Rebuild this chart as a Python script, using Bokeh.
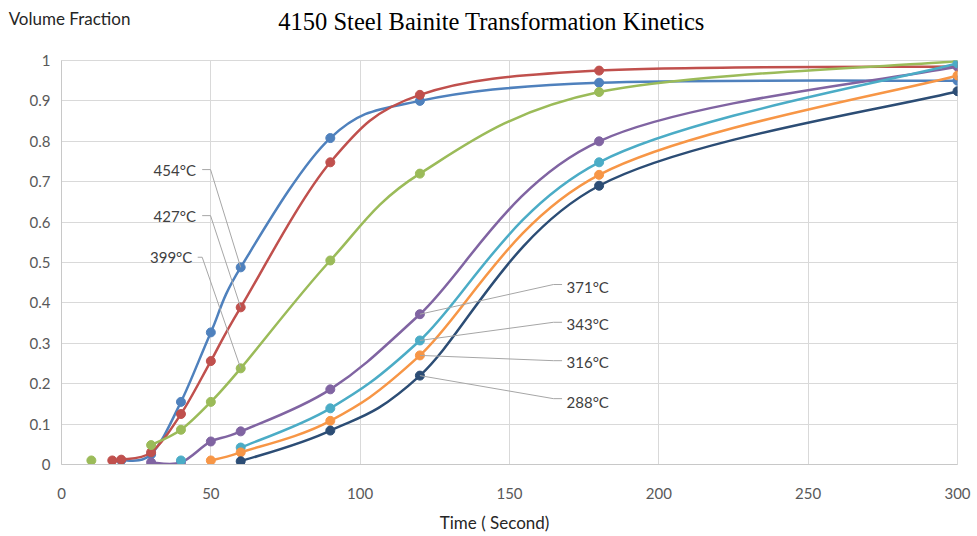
from bokeh.plotting import figure
from bokeh.models import Label, FixedTicker, Range1d
from bokeh.embed import file_html
from bokeh.resources import INLINE

# ---------------- data ----------------
x_ticks = [0, 50, 100, 150, 200, 250, 300]
y_ticks = [0, 0.1, 0.2, 0.3, 0.4, 0.5, 0.6, 0.7, 0.8, 0.9, 1]
y_tick_labels = ["0", "0.1", "0.2", "0.3", "0.4", "0.5", "0.6", "0.7", "0.8", "0.9", "1"]

names = ["454°C", "427°C", "399°C", "371°C", "343°C", "316°C", "288°C"]

t454 = [20, 30, 40, 50, 60, 90, 120, 180, 300]
v454 = [0.010, 0.025, 0.155, 0.327, 0.488, 0.808, 0.900, 0.945, 0.950]
t427 = [17, 20, 30, 40, 50, 60, 90, 120, 180, 300]
v427 = [0.010, 0.012, 0.030, 0.125, 0.256, 0.389, 0.748, 0.915, 0.975, 0.985]
t399 = [10, 20, 30, 40, 50, 60, 90, 120, 180, 300]
v399 = [0.010, None, 0.048, 0.086, 0.155, 0.238, 0.505, 0.720, 0.922, 0.998]
t371 = [30, 40, 50, 60, 90, 120, 180, 300]
v371 = [0.005, 0.005, 0.057, 0.082, 0.186, 0.372, 0.800, 0.985]
t343 = [40, 50, 60, 90, 120, 180, 300]
v343 = [0.010, None, 0.042, 0.139, 0.307, 0.748, 0.993]
t316 = [50, 60, 90, 120, 180, 300]
v316 = [0.010, 0.030, 0.108, 0.270, 0.717, 0.963]
t288 = [60, 90, 120, 180, 300]
v288 = [0.008, 0.084, 0.220, 0.690, 0.924]

series_t = [t454, t427, t399, t371, t343, t316, t288]
series_v = [v454, v427, v399, v371, v343, v316, v288]

title_text = "4150 Steel Bainite Transformation Kinetics"
y_title = "Volume Fraction"
x_title = "Time ( Second)"

# ---------------- styles ----------------
colors = ["#4f81bd", "#c0504d", "#9bbb59", "#8064a2", "#4bacc6", "#f79646", "#2c4d75"]
FONT = "Lato"
GRID = "#d9d9d9"

p = figure(width=977, height=536, output_backend="svg", toolbar_location=None,
           x_range=Range1d(0, 300), y_range=Range1d(0, 1),
           min_border_left=61, min_border_right=20, min_border_top=60, min_border_bottom=72)
p.outline_line_color = GRID
p.background_fill_color = "white"
p.border_fill_color = "white"

p.xaxis.ticker = FixedTicker(ticks=x_ticks)
p.yaxis.ticker = FixedTicker(ticks=y_ticks)
p.yaxis.major_label_overrides = {t: s for t, s in zip(y_ticks, y_tick_labels)}
for ax in (p.xaxis, p.yaxis):
    ax.axis_line_color = "#c8c8c8"
    ax.major_tick_line_color = None
    ax.minor_tick_line_color = None
    ax.major_label_text_font = FONT
    ax.major_label_text_font_size = "15px"
    ax.major_label_text_color = "#595959"
p.xaxis.major_label_standoff = 17
p.yaxis.major_label_standoff = 5
p.xgrid.grid_line_color = GRID
p.ygrid.grid_line_color = GRID


def runs(ts, vs):
    out, cur = [], []
    for t, v in zip(ts, vs):
        if v is None:
            if cur:
                out.append(cur)
            cur = []
        else:
            cur.append((t, v))
    if cur:
        out.append(cur)
    return out


def smooth(pts):
    # Excel-like smoothed line: Catmull-Rom as cubic Bezier segments
    x0, y0, x1, y1, cx0, cy0, cx1, cy1 = [], [], [], [], [], [], [], []
    n = len(pts)
    for i in range(n - 1):
        p0 = pts[i - 1] if i > 0 else pts[i]
        p1 = pts[i]
        p2 = pts[i + 1]
        p3 = pts[i + 2] if i + 2 < n else pts[i + 1]
        x0.append(p1[0]); y0.append(p1[1])
        x1.append(p2[0]); y1.append(p2[1])
        cx0.append(p1[0] + (p2[0] - p0[0]) / 6.0)
        cy0.append(p1[1] + (p2[1] - p0[1]) / 6.0)
        cx1.append(p2[0] - (p3[0] - p1[0]) / 6.0)
        cy1.append(p2[1] - (p3[1] - p1[1]) / 6.0)
    return dict(x0=x0, y0=y0, x1=x1, y1=y1, cx0=cx0, cy0=cy0, cx1=cx1, cy1=cy1)


for ts, vs, c in zip(series_t, series_v, colors):
    for r in runs(ts, vs):
        if len(r) > 1:
            p.bezier(source=smooth(r), x0="x0", y0="y0", x1="x1", y1="y1",
                     cx0="cx0", cy0="cy0", cx1="cx1", cy1="cy1",
                     line_color=c, line_width=2.5)
    xs = [t for t, v in zip(ts, vs) if v is not None]
    ys = [v for v in vs if v is not None]
    p.scatter(xs, ys, size=9, fill_color=c, line_color=c)


def val_at(ts, vs, t):
    return vs[ts.index(t)]


LEADER = "#a6a6a6"
# left-side labels (series, text right edge x, text y, leader start x, knee x, anchor time)
left_labels = [
    (0, 45.0, 0.730, 47.1, 49.9, 60),
    (1, 45.0, 0.616, 47.1, 49.9, 60),
    (2, 43.8, 0.513, 45.6, 47.1, 60),
]
for idx, tx, ty, kx0, kx1, at in left_labels:
    ay = val_at(series_t[idx], series_v[idx], at)
    p.line([kx0, kx1, at], [ty, ty, ay], line_color=LEADER, line_width=1)
    p.add_layout(Label(x=tx, y=ty, text=names[idx], text_align="right", text_baseline="middle",
                       text_font=FONT, text_font_size="15px", text_color="#404040"))

# right-side labels (series, text left x, text y, knee y, anchor time)
right_labels = [
    (3, 169.1, 0.439, 0.4455, 120),
    (4, 169.1, 0.349, 0.352, 120),
    (5, 169.1, 0.253, 0.257, 120),
    (6, 169.1, 0.154, 0.163, 120),
]
for idx, tx, ty, ky, at in right_labels:
    ay = val_at(series_t[idx], series_v[idx], at)
    p.line([at, 164.7, 167.6], [ay, ky, ky], line_color=LEADER, line_width=1)
    p.add_layout(Label(x=tx, y=ty, text=names[idx], text_align="left", text_baseline="middle",
                       text_font=FONT, text_font_size="15px", text_color="#404040"))

# titles: placed in side panels (not clipped to the frame), positioned in data units
p.add_layout(Label(x=144.0, y=1.097, text=title_text,
                   text_align="center", text_baseline="alphabetic",
                   text_font="Liberation Serif", text_font_size="24.5px", text_color="#000000"),
             "above")
p.add_layout(Label(x=-17.7, y=1.105, text=y_title, text_align="left", text_baseline="alphabetic",
                   text_font=FONT, text_font_size="17px", text_color="#262626"),
             "above")
p.add_layout(Label(x=145.0, y=-0.143, text=x_title, text_align="center", text_baseline="alphabetic",
                   text_font=FONT, text_font_size="17px", text_color="#262626"),
             "below")

open("out.html", "w").write(file_html(p, INLINE))
